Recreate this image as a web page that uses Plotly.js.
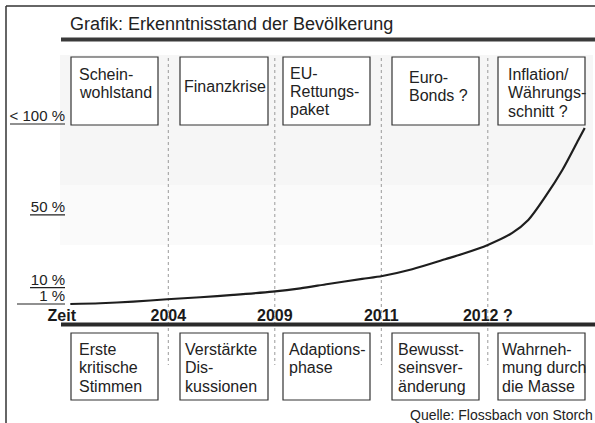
<!DOCTYPE html>
<html><head><meta charset="utf-8">
<script src="https://cdn.plot.ly/plotly-3.0.1.min.js"></script>
<style>html,body{margin:0;padding:0;background:#fff}#chart{width:595px;height:423px}</style>
</head><body><div id="chart"></div>
<script>
// ---------- data ----------
const phases = ['Zeit', '2004', '2009', '2011', '2012 ?'];
const phaseIndex = [0, 1, 2, 3, 4];
const dividerIndex = [1, 2, 3, 4];
const levelLabels = ['1 %', '10 %', '50 %', '< 100 %'];
const levelValues = [1, 10, 50, 100];
const topEvents = ['Schein-<br>wohlstand', 'Finanzkrise', 'EU-<br>Rettungs-<br>paket', 'Euro-<br>Bonds ?', 'Inflation/<br>Währungs-<br>schnitt ?'];
const bottomReactions = ['Erste<br>kritische<br>Stimmen', 'Verstärkte<br>Dis-<br>kussionen', 'Adaptions-<br>phase', 'Bewusst-<br>seinsver-<br>änderung', 'Wahrneh-<br>mung durch<br>die Masse'];
const curveX = [0.08, 0.36, 0.67, 0.99, 1.30, 1.61, 1.98, 2.24, 2.50, 2.82, 3.01, 3.29, 3.60, 3.76, 4.00, 4.23, 4.38, 4.54, 4.70, 4.85, 4.91];
const curveY = [1.0, 1.4, 2.3, 3.6, 4.7, 6.0, 7.8, 9.6, 12.0, 14.8, 16.4, 20.1, 25.6, 28.5, 33.5, 40.1, 47.2, 60.0, 74.7, 91.2, 97.8];
const titleText = 'Grafik: Erkenntnisstand der Bevölkerung';
const sourceText = 'Quelle: Flossbach von Storch';

// ---------- layout geometry (pixels) ----------
const W = 595, H = 423;
const fx = p => p / W;
const fy = p => 1 - p / H;
const FONT = 'Liberation Sans, Arial, sans-serif';
const INK = '#222';

// x: phase index -> pixel
const xOrigin = 61.8, xStep = 106.5;
const xRange = [-xOrigin / xStep, (W - xOrigin) / xStep];
// y: level -> pixel (1 at 304px, 100 at 124px)
const yPx1 = 304, yPx100 = 124;
const ys = (yPx1 - yPx100) / 99;
const yRange = [1 - (H - yPx1) / ys, 1 + yPx1 / ys];

const boxX = [[71, 158], [180, 268], [283, 370], [392, 479], [498, 585]];
const topBoxY = [57, 125], bottomBoxY = [333, 400];
const topTextLeft = [79, 184, 290, 409, 508];
const topFirstBase = [80, 92.5, 78.5, 83, 80];
const bottomTextLeft = [79, 185, 289, 398, 502];
const bottomFirstBase = 355;
const lineStep = 18.4;
const underlineLeft = [17, 30, 30, 10];

const shapes = [];
// halftone-like shading
shapes.push({type: 'rect', xref: 'paper', yref: 'paper', x0: fx(60), x1: fx(593), y0: fy(55), y1: fy(185), fillcolor: '#f6f6f6', line: {width: 0}, layer: 'below'});
shapes.push({type: 'rect', xref: 'paper', yref: 'paper', x0: fx(60), x1: fx(593), y0: fy(185), y1: fy(245), fillcolor: '#fafafa', line: {width: 0}, layer: 'below'});
// frame
shapes.push({type: 'line', xref: 'paper', yref: 'paper', x0: fx(6), x1: fx(595), y0: fy(6), y1: fy(6), line: {color: '#333', width: 1.5}});
shapes.push({type: 'line', xref: 'paper', yref: 'paper', x0: fx(6), x1: fx(6), y0: fy(6), y1: fy(423), line: {color: '#333', width: 1.5}});
// rules
shapes.push({type: 'line', xref: 'paper', yref: 'paper', x0: fx(61), x1: fx(595), y0: fy(39.5), y1: fy(39.5), line: {color: '#3a3a3a', width: 4}});
shapes.push({type: 'line', xref: 'paper', yref: 'paper', x0: fx(61), x1: fx(595), y0: fy(324.5), y1: fy(324.5), line: {color: '#2a2a2a', width: 4}});
// dotted dividers
dividerIndex.forEach(i => shapes.push({type: 'line', xref: 'x', yref: 'paper', x0: i, x1: i, y0: fy(58), y1: fy(365), line: {color: '#9a9a9a', width: 1, dash: 'dot'}, layer: 'below'}));
// boxes
boxX.forEach(b => {
  shapes.push({type: 'rect', xref: 'paper', yref: 'paper', x0: fx(b[0]), x1: fx(b[1]), y0: fy(topBoxY[0]), y1: fy(topBoxY[1]), fillcolor: '#fff', line: {color: '#333', width: 1.2}, layer: 'below'});
  shapes.push({type: 'rect', xref: 'paper', yref: 'paper', x0: fx(b[0]), x1: fx(b[1]), y0: fy(bottomBoxY[0]), y1: fy(bottomBoxY[1]), fillcolor: '#fff', line: {color: '#333', width: 1.2}, layer: 'below'});
});
// underlines of level labels
levelValues.forEach((v, i) => shapes.push({type: 'line', xref: 'paper', yref: 'y', x0: fx(underlineLeft[i]), x1: fx(65), y0: v, y1: v, line: {color: '#222', width: 1.2}}));

const annotations = [];
function addLines(text, left, firstBase) {
  text.split('<br>').forEach((t, k) => annotations.push({
    text: t, xref: 'paper', yref: 'paper', x: fx(left), y: fy(firstBase + k * lineStep - 5.5),
    xanchor: 'left', yanchor: 'middle', showarrow: false, borderpad: 0, borderwidth: 0,
    font: {family: FONT, size: 16, color: INK}
  }));
}
topEvents.forEach((t, i) => addLines(t, topTextLeft[i], topFirstBase[i]));
bottomReactions.forEach((t, i) => addLines(t, bottomTextLeft[i], bottomFirstBase));
annotations.push({text: sourceText, xref: 'paper', yref: 'paper', x: fx(593), y: fy(414.5), xanchor: 'right', yanchor: 'middle', showarrow: false, borderpad: 0, borderwidth: 0, font: {family: FONT, size: 14, color: INK}});

const trace = {x: curveX, y: curveY, type: 'scatter', mode: 'lines', line: {color: '#1e1e1e', width: 2.2, shape: 'spline', smoothing: 0.8}, hoverinfo: 'skip'};

const layout = {
  width: W, height: H, margin: {l: 0, r: 0, t: 0, b: 0},
  paper_bgcolor: '#fff', plot_bgcolor: 'rgba(0,0,0,0)', showlegend: false,
  title: {text: titleText, xref: 'paper', yref: 'paper', x: fx(70), y: fy(23.5), xanchor: 'left', yanchor: 'middle', font: {family: FONT, size: 18, color: INK}},
  xaxis: {range: xRange, anchor: 'free', position: fy(304), showgrid: false, zeroline: false, showline: false, ticks: '',
    tickmode: 'array', tickvals: phaseIndex, ticktext: phases, tickfont: {family: FONT, size: 16, color: '#1a1a1a', weight: 'bold'}, ticklabelstandoff: 0, fixedrange: true},
  yaxis: {range: yRange, anchor: 'free', position: fx(65), side: 'left', showgrid: false, zeroline: false, showline: false, ticks: '',
    tickmode: 'array', tickvals: levelValues, ticktext: levelLabels, tickfont: {family: FONT, size: 15, color: INK}, ticklabelshift: -8, ticklabelstandoff: 0, fixedrange: true},
  shapes: shapes, annotations: annotations
};
Plotly.newPlot('chart', [trace], layout, {displayModeBar: false, staticPlot: true});
</script>
</body></html>
